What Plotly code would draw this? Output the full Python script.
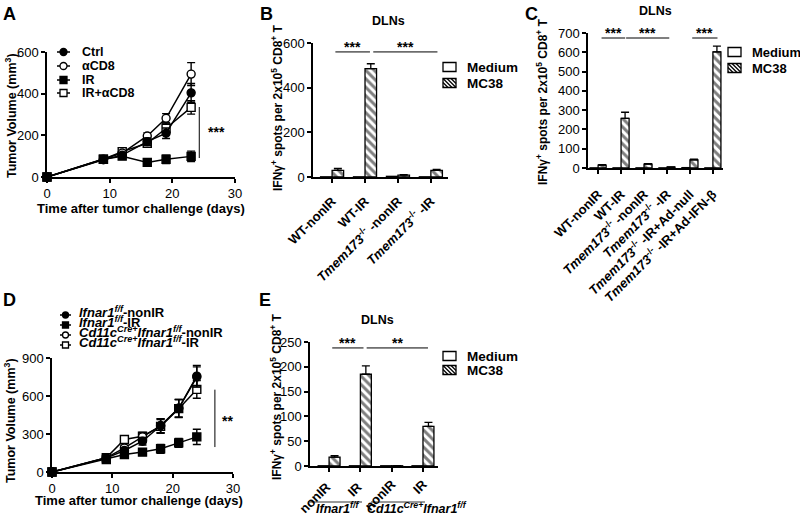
import plotly.graph_objects as go

W, H = 800, 517
FONT = "Liberation Sans"


def fx(x):
    return x / W


def fy(y):
    return 1 - y / H


# ---------------- Data ----------------
# Panel A
a_days = [0, 9, 12, 16, 19, 23]
a_ctrl = [0, 83, 105, 170, 210, 404]
a_ctrl_err = [0, 8, 10, 18, 25, 45]
a_acd8 = [0, 85, 115, 197, 282, 494]
a_acd8_err = [0, 8, 10, 15, 22, 55]
a_ir = [0, 85, 100, 70, 85, 99]
a_ir_err = [0, 8, 8, 8, 20, 25]
a_iracd8 = [0, 85, 122, 162, 234, 334]
a_iracd8_err = [0, 8, 10, 20, 25, 32]
a_names = ["Ctrl", "αCD8", "IR", "IR+αCD8"]

# Panel B
b_cats = ["WT-nonIR", "WT-IR", "<i>Tmem173</i><sup>-/-</sup> -nonIR",
          "<i>Tmem173</i><sup>-/-</sup> -IR"]
b_medium = [1, 1, 3, 1]
b_mc38 = [30, 485, 8, 30]
b_mc38_err = [8, 22, 2, 4]

# Panel C
c_cats = ["WT-nonIR", "WT-IR", "<i>Tmem173</i><sup>-/-</sup> -nonIR",
          "<i>Tmem173</i><sup>-/-</sup> -IR",
          "<i>Tmem173</i><sup>-/-</sup> -IR+Ad-null",
          "<i>Tmem173</i><sup>-/-</sup> -IR+Ad-IFN-β"]
c_medium = [1, 1, 1, 1, 2, 1]
c_mc38 = [15, 257, 20, 5, 42, 602]
c_mc38_err = [2, 32, 3, 1, 4, 30]

# Panel D
d_days = [0, 9, 12, 15, 18, 21, 24]
d_wt_non = [0, 110, 170, 243, 365, 503, 757]
d_wt_non_err = [0, 12, 20, 30, 55, 70, 85]
d_wt_ir = [0, 99, 138, 157, 183, 230, 277]
d_wt_ir_err = [0, 10, 15, 25, 35, 35, 60]
d_cd_non = [0, 112, 190, 277, 365, 503, 750]
d_cd_non_err = [0, 12, 20, 30, 55, 70, 80]
d_cd_ir = [0, 112, 256, 282, 360, 500, 652]
d_cd_ir_err = [0, 12, 20, 30, 55, 70, 70]
d_names = ["<i>Ifnar1</i><sup><i>f/f</i></sup>-nonIR",
           "<i>Ifnar1</i><sup><i>f/f</i></sup>-IR",
           "<i>Cd11c</i><sup><i>Cre+</i></sup><i>Ifnar1</i><sup><i>f/f</i></sup>-nonIR",
           "<i>Cd11c</i><sup><i>Cre+</i></sup><i>Ifnar1</i><sup><i>f/f</i></sup>-IR"]

# Panel E
e_cats = ["nonIR ", "IR ", "nonIR", "IR"]
e_groups = ["<i>Ifnar1</i><sup><i>f/f</i></sup>",
            "<i>Cd11c</i><sup><i>Cre+</i></sup><i>Ifnar1</i><sup><i>f/f</i></sup>"]
e_medium = [0.5, 0.5, 0.5, 0.5]
e_mc38 = [18, 185, 0.5, 80]
e_mc38_err = [3, 17, 0, 8]

bar_names = ["Medium", "MC38"]
ytitle_ifn = "IFNγ<sup>+</sup> spots per 2x10<sup>5</sup> CD8<sup>+</sup> T"
xtitle_days = "Time after tumor challenge (days)"
ytitle_vol = "Tumor Volume (mm<sup>3</sup>)"

# ---------------- Figure ----------------
fig = go.Figure()

LW = 1.5


def line_trace(x, y, err, filled, symbol, xa, ya):
    return go.Scatter(
        x=x, y=y, mode="lines+markers", xaxis=xa, yaxis=ya, showlegend=False,
        line=dict(color="black", width=LW),
        marker=dict(symbol=symbol, size=8, color="black" if filled else "white",
                    line=dict(color="black", width=1.4)),
        error_y=dict(type="data", array=err, color="black", thickness=1.4, width=4),
        cliponaxis=False,
    )


# Panel A traces
fig.add_trace(line_trace(a_days, a_iracd8, a_iracd8_err, False, "square", "x", "y"))
fig.add_trace(line_trace(a_days, a_ir, a_ir_err, True, "square", "x", "y"))
fig.add_trace(line_trace(a_days, a_acd8, a_acd8_err, False, "circle", "x", "y"))
fig.add_trace(line_trace(a_days, a_ctrl, a_ctrl_err, True, "circle", "x", "y"))

# Panel D traces
fig.add_trace(line_trace(d_days, d_cd_ir, d_cd_ir_err, False, "square", "x4", "y4"))
fig.add_trace(line_trace(d_days, d_wt_ir, d_wt_ir_err, True, "square", "x4", "y4"))
fig.add_trace(line_trace(d_days, d_cd_non, d_cd_non_err, False, "circle", "x4", "y4"))
fig.add_trace(line_trace(d_days, d_wt_non, d_wt_non_err, True, "circle", "x4", "y4"))


def bar_pair(cats, med, mc, err, xa, ya):
    t1 = go.Bar(x=cats, y=med, name=bar_names[0], xaxis=xa, yaxis=ya, showlegend=False,
                marker=dict(color="white", line=dict(color="black", width=1.3)))
    t2 = go.Bar(x=cats, y=mc, name=bar_names[1], xaxis=xa, yaxis=ya, showlegend=False,
                marker=dict(color="white", line=dict(color="black", width=1.3),
                            pattern=dict(shape="\\", fgcolor="black", bgcolor="white",
                                         size=6, solidity=0.5)),
                error_y=dict(type="data", symmetric=False, array=err,
                             arrayminus=[0] * len(err), color="black",
                             thickness=1.3, width=4))
    return [t1, t2]


for t in bar_pair(b_cats, b_medium, b_mc38, b_mc38_err, "x2", "y2"):
    fig.add_trace(t)
for t in bar_pair(c_cats, c_medium, c_mc38, c_mc38_err, "x3", "y3"):
    fig.add_trace(t)
for t in bar_pair(e_cats, e_medium, e_mc38, e_mc38_err, "x5", "y5"):
    fig.add_trace(t)

tickfont = dict(family=FONT, size=13, color="black")
boldtick = dict(family=FONT, size=13, color="black", weight="bold")


def axis_common():
    return dict(showline=True, linecolor="black", linewidth=LW, ticks="outside",
                ticklen=4, tickwidth=LW, tickcolor="black", showgrid=False,
                zeroline=False, tickfont=tickfont, automargin=False, fixedrange=True)


def xdom(a, b):
    return [fx(a), fx(b)]


def ydom(top, bottom):
    return [fy(bottom), fy(top)]


layout = dict(
    width=W, height=H, margin=dict(l=0, r=0, t=0, b=0, pad=0, autoexpand=False),
    plot_bgcolor="white", paper_bgcolor="white", barmode="group", showlegend=False,
    font=dict(family=FONT, color="black"),
)
# A
layout["xaxis"] = dict(axis_common(), domain=xdom(47, 235), range=[0, 30], tickvals=[0, 10, 20, 30],
                       anchor="y")
layout["yaxis"] = dict(axis_common(), domain=ydom(52, 177), range=[0, 600], tickvals=[0, 200, 400, 600],
                       anchor="x")
# B
layout["xaxis2"] = dict(axis_common(), domain=xdom(313, 448), range=[-0.58, 3.52], anchor="y2",
                        tickangle=-45, tickfont=boldtick, ticklabelstandoff=6)
layout["yaxis2"] = dict(axis_common(), domain=ydom(43, 177), range=[0, 600], tickvals=[0, 200, 400, 600],
                        anchor="x2")
# C
layout["xaxis3"] = dict(axis_common(), domain=xdom(588, 723), range=[-0.44, 5.44], anchor="y3",
                        tickangle=-45, tickfont=boldtick, ticklabelstandoff=8)
layout["yaxis3"] = dict(axis_common(), domain=ydom(33, 168), range=[0, 700],
                        tickvals=[0, 100, 200, 300, 400, 500, 600, 700], anchor="x3")
# D
layout["xaxis4"] = dict(axis_common(), domain=xdom(52, 233), range=[0, 30], tickvals=[0, 10, 20, 30],
                        anchor="y4")
layout["yaxis4"] = dict(axis_common(), domain=ydom(358, 472), range=[0, 900], tickvals=[0, 300, 600, 900],
                        anchor="x4")
# E
layout["xaxis5"] = dict(axis_common(), domain=xdom(310, 438), range=[-0.61, 3.48], anchor="y5",
                        tickangle=-45, tickfont=boldtick, ticklabelstandoff=0)
layout["yaxis5"] = dict(axis_common(), domain=ydom(342, 466), range=[0, 250],
                        tickvals=[0, 50, 100, 150, 200, 250], anchor="x5")

layout["bargap"] = 0.3
fig.update_layout(**layout)

ann = []
shapes = []


def text(x, y, s, size=12.5, bold=True, angle=0, xanchor="center", yanchor="middle"):
    f = dict(family=FONT, size=size, color="black")
    if bold:
        f["weight"] = "bold"
    ann.append(dict(x=fx(x), y=fy(y), xref="paper", yref="paper", text=s, showarrow=False,
                    font=f, textangle=angle, xanchor=xanchor, yanchor=yanchor))


def pline(x0, y0, x1, y1, w=1.0):
    shapes.append(dict(type="line", xref="paper", yref="paper", x0=fx(x0), y0=fy(y0),
                       x1=fx(x1), y1=fy(y1), line=dict(color="black", width=w)))


# Panel letters
for L, (x, y) in zip("ABCDE", [(9, 14), (266, 14), (531, 14), (9, 300), (265, 300)]):
    text(x, y, L, size=18)

# Axis titles
text(141, 208, xtitle_days, size=13)
text(139, 500, xtitle_days, size=13)
text(11, 116, ytitle_vol, size=12.5, angle=-90)
text(10, 421, ytitle_vol, size=12.5, angle=-90)
text(277, 108, ytitle_ifn, size=12, angle=-90)
text(542, 102, ytitle_ifn, size=12, angle=-90)
text(276, 397, ytitle_ifn, size=12, angle=-90)

# DLNs titles
text(388, 21, "DLNs")
text(655, 11, "DLNs")
text(377, 320, "DLNs")

# Legend A
leg_a_y = [52, 66, 80, 93]
leg_a_sym = [("circle", True), ("circle", False), ("square", True), ("square", False)]
for name, yy, (sym, filled) in zip(a_names, leg_a_y, leg_a_sym):
    pline(57, yy, 70, yy, LW)
    shapes.append(dict(type="circle" if sym == "circle" else "rect", xref="paper", yref="paper",
                       x0=fx(60), x1=fx(67), y0=fy(yy + 3.5), y1=fy(yy - 3.5),
                       fillcolor="black" if filled else "white", line=dict(color="black", width=1.3)))
    text(80, yy, name, size=12.5, xanchor="left")

# Legend D
leg_d_y = [315, 325, 335, 345]
leg_d_sym = [("circle", True), ("square", True), ("circle", False), ("square", False)]
for name, yy, (sym, filled) in zip(d_names, leg_d_y, leg_d_sym):
    pline(60, yy, 71, yy, LW)
    shapes.append(dict(type="circle" if sym == "circle" else "rect", xref="paper", yref="paper",
                       x0=fx(62.5), x1=fx(68.5), y0=fy(yy + 3), y1=fy(yy - 3),
                       fillcolor="black" if filled else "white", line=dict(color="black", width=1.3)))
    text(77, yy - 3, name, size=13, xanchor="left")


def bar_legend(x, y1, y2, tsize=13.5):
    for i, yy in enumerate([y1, y2]):
        x0, x1, t, b = x, x + 13, yy - 4.5, yy + 4.5
        shapes.append(dict(type="rect", xref="paper", yref="paper", x0=fx(x0), x1=fx(x1),
                           y0=fy(b), y1=fy(t), fillcolor="white", line=dict(color="black", width=1.3)))
        if i == 1:
            for k in range(-2, 4):
                sx0, sy0 = x0 + 4 * k, t
                sx1, sy1 = sx0 + 9, b
                if sx0 < x0:
                    sy0 = t + (x0 - sx0)
                    sx0 = x0
                if sx1 > x1:
                    sy1 = b - (sx1 - x1)
                    sx1 = x1
                if sx1 > sx0:
                    pline(sx0, sy0, sx1, sy1, 1.2)
        text(x + 22, yy, bar_names[i], size=tsize, xanchor="left")


bar_legend(443, 67, 83)
bar_legend(728, 52, 68, 13)
bar_legend(443, 356, 370)

# Significance marks
shapes.append(dict(type="line", xref="x", yref="y", x0=24.3, x1=24.3, y0=91, y1=336,
                   line=dict(color="black", width=1)))
ann.append(dict(x=25.4, y=215, xref="x", yref="y", text="***", showarrow=False, xanchor="left",
                font=dict(family=FONT, size=14, color="black", weight="bold")))
shapes.append(dict(type="line", xref="x4", yref="y4", x0=27.0, x1=27.0, y0=197, y1=650,
                   line=dict(color="black", width=1)))
ann.append(dict(x=27.9, y=400, xref="x4", yref="y4", text="**", showarrow=False, xanchor="left",
                font=dict(family=FONT, size=14, color="black", weight="bold")))


def sig(xa, ya, x0, x1, y, lab):
    shapes.append(dict(type="line", xref=xa, yref=ya, x0=x0, x1=x1, y0=y, y1=y,
                       line=dict(color="black", width=1)))
    ann.append(dict(x=(x0 + x1) / 2, y=y, xref=xa, yref=ya, text=lab, showarrow=False,
                    yanchor="bottom", yshift=-5,
                    font=dict(family=FONT, size=14, color="black", weight="bold")))


sig("x2", "y2", 0.1, 1.15, 560, "***")
sig("x2", "y2", 1.25, 3.2, 560, "***")
sig("x3", "y3", 0.15, 1.18, 674, "***")
sig("x3", "y3", 1.22, 3.1, 674, "***")
sig("x3", "y3", 4.1, 5.2, 674, "***")
sig("x5", "y5", 0.1, 1.1, 238, "***")
sig("x5", "y5", 1.2, 3.16, 238, "**")

# E group labels
pline(308, 502, 362, 502, 0.8)
pline(371, 502, 425, 502, 0.8)
text(337, 508, e_groups[0], size=12.5)
text(417, 508, e_groups[1], size=12.5)

fig.update_layout(annotations=ann, shapes=shapes)
fig.write_html("out.html", config={"displayModeBar": False},
               post_script="document.body.style.margin='0';document.body.style.overflow='hidden';")
